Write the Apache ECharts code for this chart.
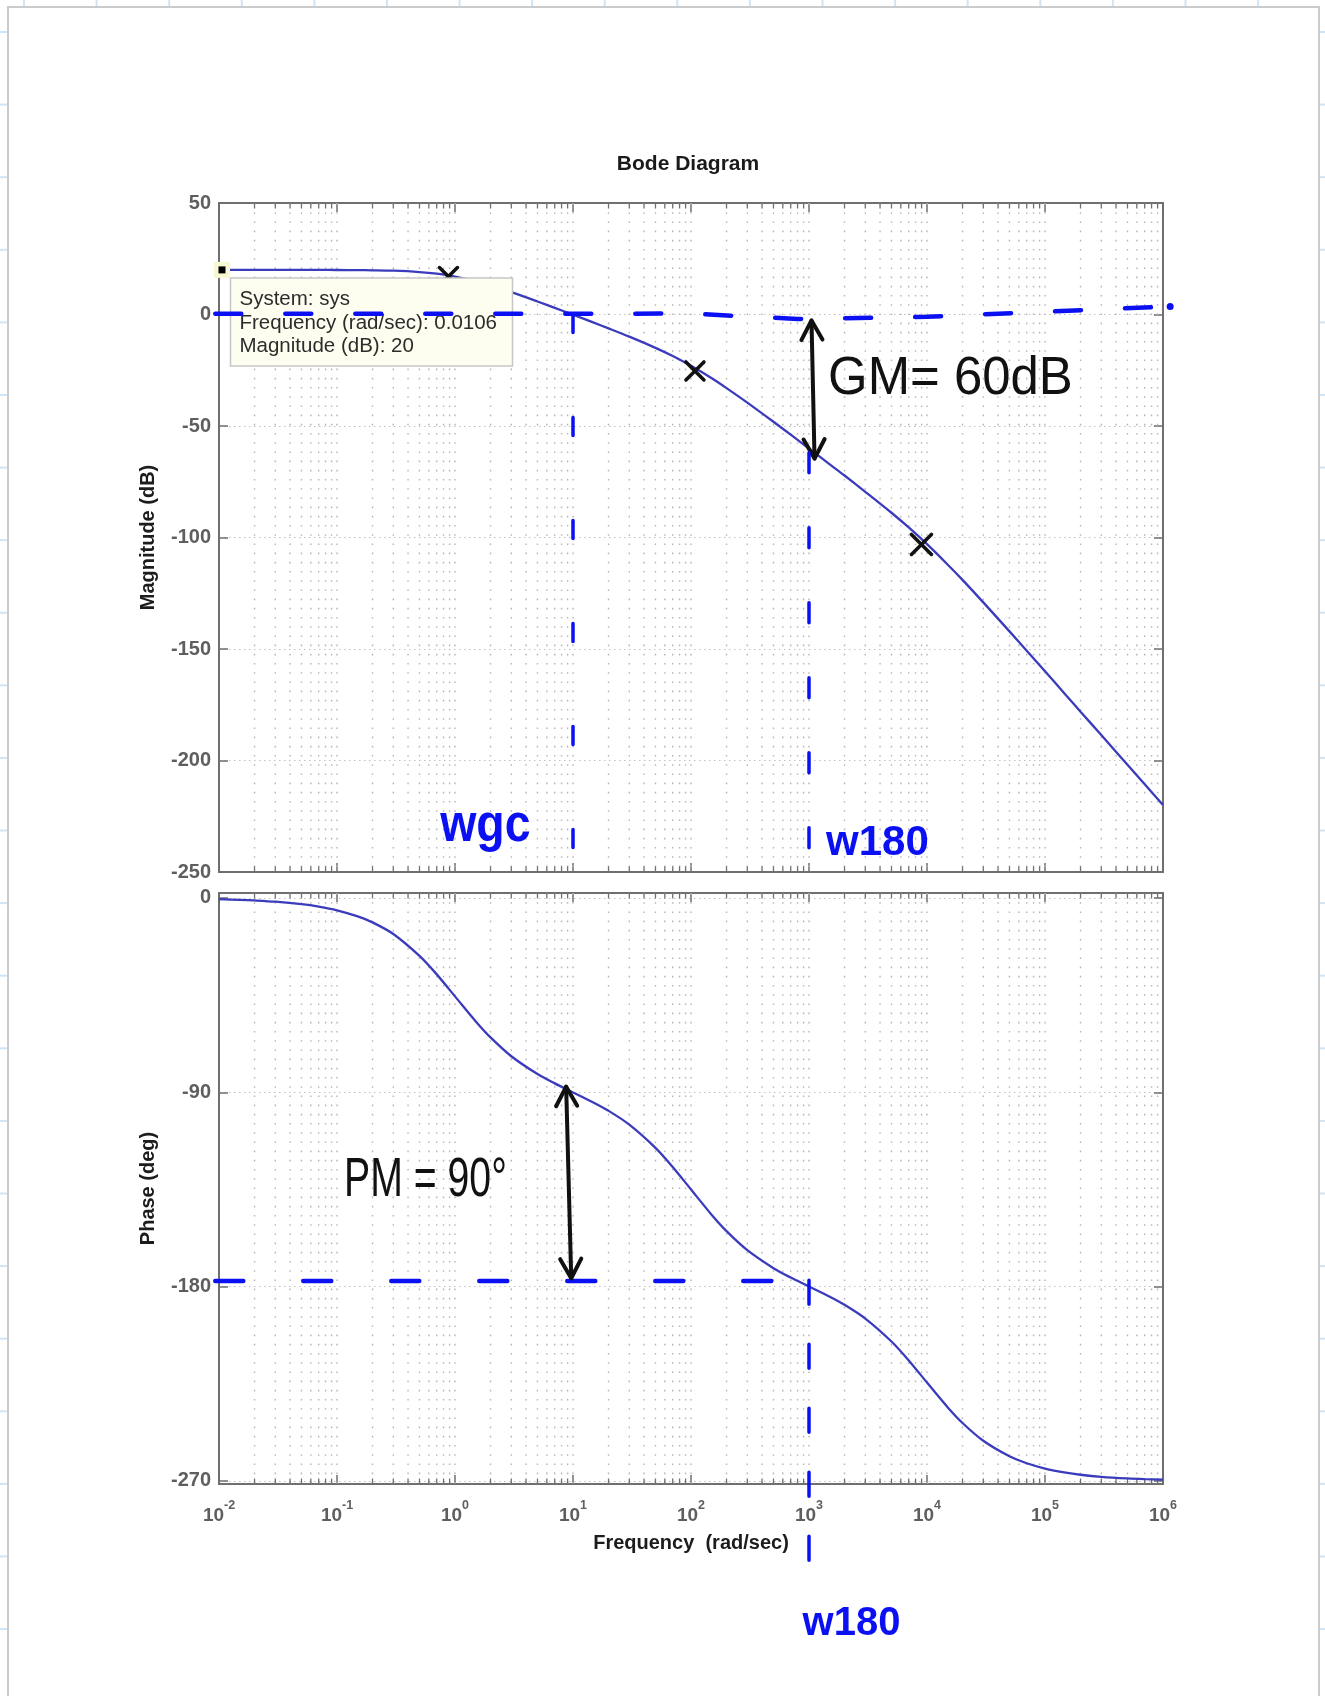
<!DOCTYPE html>
<html>
<head>
<meta charset="utf-8">
<script src="https://cdn.jsdelivr.net/npm/echarts@6/dist/echarts.min.js"></script>
<style>
html,body{margin:0;padding:0;}
body{width:1325px;height:1696px;overflow:hidden;position:relative;background-color:#fff;
background-image:linear-gradient(to right,#cfe5f6 2px,transparent 2px),linear-gradient(to bottom,#cfe5f6 2px,transparent 2px);
background-size:72.6px 72.6px;background-position:23px 31px;}
#page{position:absolute;left:7px;top:6px;width:1309px;height:1720px;background:#fff;border:2px solid #cbcbcb;}
#chart{position:absolute;left:0;top:0;width:1325px;height:1696px;}
</style>
</head>
<body>
<div id="page"></div>
<div id="chart"></div>
<script>
// ---------------- data ----------------
const freq = [0.01,0.015,0.02,0.03,0.05,0.07, 0.1,0.15,0.2,0.3,0.5,0.7, 1,1.5,2,3,5,7,
  10,15,20,30,50,70, 100,150,200,300,500,700, 1000,1500,2000,3000,5000,7000,
  1e4,1.5e4,2e4,3e4,5e4,7e4, 1e5,1.5e5,2e5,3e5,5e5,7e5, 1e6];
const magnitudeDb = [20.0,20.0,20.0,20.0,19.99,19.98, 19.96,19.9,19.83,19.63,19.03,18.29,
  16.99,14.88,13.01,10.0,5.84,2.99, -0.09,-3.64,-6.2,-9.92,-14.95,-18.61,
  -23.0,-28.6,-33.0,-39.5,-48.1,-53.9, -60.1,-67.2,-72.2,-79.5,-88.9,-95.5,
  -103.0,-112.2,-119.0,-129.1,-142.1,-150.8, -160.0,-170.6,-178.1,-188.6,-201.9,-210.7, -220.0];
const phaseDeg = [-0.57,-0.86,-1.15,-1.72,-2.86,-4.0, -5.71,-8.53,-11.31,-16.7,-26.86,-35.39,
  -45.57,-57.17,-64.58,-73.29,-81.55,-85.87, -90.06,-94.81,-98.56,-104.96,-115.71,-124.57,
  -135.0,-146.79,-154.29,-163.1,-171.44,-175.79, -179.94,-184.68,-188.42,-194.77,-205.41,-214.16,
  -224.43,-235.93,-243.14,-251.38,-258.58,-261.79, -264.23,-266.15,-267.11,-268.07,-268.84,-269.17, -269.42];

// axis ticks and ranges
const freqExponents = [-2,-1,0,1,2,3,4,5,6];
const minorMultipliers = [2,3,4,5,6,7,8,9];
const magTicks = [-250,-200,-150,-100,-50,0,50];
const phaseTicks = [-270,-180,-90,0];
const phaseRange = [-271.4, 2.3];   // MATLAB pads the phase limits slightly

// texts
const chartTitle = 'Bode Diagram';
const magAxisName = 'Magnitude (dB)';
const phaseAxisName = 'Phase (deg)';
const freqAxisName = 'Frequency  (rad/sec)';

// MATLAB data tip
const datatipPoint = [0.0106, 20];
const datatipLines = ['System: sys', 'Frequency (rad/sec): 0.0106', 'Magnitude (dB): 20'];

// handwritten annotations (data coordinates)
const zeroDbGuide = [[0.0093,0.3],[100,0.4],[800,-2.0],[1e4,-1.0],[1.12e6,3.6]];
const zeroDbGuideEnd = [1.15e6, 3.6];
const wgcGuide = [[10,0],[10,-250]];
const w180MagGuide = [[1000,-62],[1000,-250]];
const minus180Guide = [[0.0093,-177.4],[1000,-177.4]];
const w180PhaseGuide = [[1000,-177],[1000,-313]];
const gmArrow = [[1050,-2.7],[1114,-64.6]];
const pmArrow = [[8.75,-87.4],[9.66,-176.1]];
const magCrosses = [[0.88,17.0],[108,-25.3],[8970,-103.1]];
const gmText = 'GM= 60dB', gmTextAt = [15800,-29.1];
const pmText = 'PM = 90°', pmTextAt = [0.562,-131.1];
const wgcText = 'wgc', wgcTextAt = [1.81,-229.6];
const w180Text = 'w180', w180MagTextAt = [3800,-237.2], w180PhaseTextAt = [2290,-336.3];

// ---------------- styling ----------------
const FONT = 'Liberation Sans, Arial, Helvetica, sans-serif';
const AXIS_COLOR = '#6f6f6f';
const TICK_COLOR = '#5e5e5e';
const CURVE_COLOR = '#3b3bbd';
const INK_BLUE = '#0b10f2';
const INK_BLACK = '#111111';

const gridFreqs = [];
freqExponents.forEach(function (e) {
  gridFreqs.push([Math.pow(10, e), 0, 0]);
  minorMultipliers.forEach(function (m) { gridFreqs.push([m * Math.pow(10, e), 0, 1]); });
});
const gridFreqData = gridFreqs.filter(function (d) { return d[0] > 0.0101 && d[0] < 9.9e5; });

function xAxisCfg(gridIndex, position, withLabels) {
  return {
    type: 'log', logBase: 10, gridIndex: gridIndex, position: position,
    min: Math.pow(10, freqExponents[0]), max: Math.pow(10, freqExponents[freqExponents.length - 1]),
    splitNumber: freqExponents.length - 1,
    axisLine: {show: true, onZero: false, lineStyle: {color: AXIS_COLOR, width: 2}},
    axisTick: {show: true, inside: true, length: 9, lineStyle: {color: AXIS_COLOR, width: 1.5}},
    axisLabel: withLabels ? {
      show: true, margin: 15,
      formatter: function (v) { return '{b|10}{s|' + Math.round(Math.log10(v)) + '}'; },
      rich: {
        b: {fontSize: 19, fontWeight: 'bold', color: TICK_COLOR, fontFamily: FONT, lineHeight: 26, verticalAlign: 'bottom'},
        s: {fontSize: 12.5, fontWeight: 'bold', color: TICK_COLOR, fontFamily: FONT, lineHeight: 13, verticalAlign: 'top'}
      }
    } : {show: false},
    splitLine: {show: false}, minorTick: {show: false}, minorSplitLine: {show: false},
    name: withLabels ? freqAxisName : '', nameLocation: 'middle', nameGap: 49,
    nameTextStyle: {fontSize: 20, fontWeight: 'bold', color: '#1c1c1c', fontFamily: FONT}
  };
}
function yAxisCfg(gridIndex, position, ticks, range, withLabels, name) {
  return {
    type: 'value', gridIndex: gridIndex, position: position,
    min: range[0], max: range[1],
    axisLine: {show: true, onZero: false, lineStyle: {color: AXIS_COLOR, width: 2}},
    axisTick: {show: true, inside: true, length: 9, customValues: ticks, lineStyle: {color: AXIS_COLOR, width: 1.5}},
    axisLabel: withLabels ? {show: true, margin: 8, customValues: ticks, fontSize: 20, fontWeight: 'bold', color: TICK_COLOR, fontFamily: FONT} : {show: false},
    splitLine: withLabels ? {show: true, lineStyle: {color: '#c2c2c2', width: 1.2, type: [1.5, 3.5]}} : {show: false},
    name: withLabels ? name : '', nameLocation: 'middle', nameGap: 61, nameRotate: 90,
    nameTextStyle: {fontSize: 20, fontWeight: 'bold', color: '#1c1c1c', fontFamily: FONT}
  };
}

// vertical dotted grid lines + minor ticks (drawn through the log axis)
function gridRender(params, api) {
  const x = api.coord([api.value(0), api.value(1)])[0];
  const cs = params.coordSys;
  const top = cs.y, bot = cs.y + cs.height;
  const children = [{
    type: 'line', shape: {x1: x, y1: top, x2: x, y2: bot},
    style: {stroke: '#b5b5b5', lineWidth: 1.4, lineDash: [1.6, 7.6]}
  }];
  if (api.value(2) === 1) {
    children.push({type: 'line', shape: {x1: x, y1: bot, x2: x, y2: bot - 5.5}, style: {stroke: AXIS_COLOR, lineWidth: 1.3}});
    children.push({type: 'line', shape: {x1: x, y1: top, x2: x, y2: top + 5.5}, style: {stroke: AXIS_COLOR, lineWidth: 1.3}});
  }
  return {type: 'group', children: children};
}

function poly(api, pts, color, width, dash) {
  return {type: 'polyline', shape: {points: pts.map(function (p) { return api.coord(p); })},
    style: {stroke: color, lineWidth: width, fill: null, lineDash: dash || null, lineCap: 'round', lineJoin: 'round'}};
}
function arrowHead(tip, toward, len, ang) {
  const dx = toward[0] - tip[0], dy = toward[1] - tip[1];
  const L = Math.hypot(dx, dy), ux = dx / L, uy = dy / L;
  function rot(a) { return [ux * Math.cos(a) - uy * Math.sin(a), ux * Math.sin(a) + uy * Math.cos(a)]; }
  const r1 = rot(ang), r2 = rot(-ang);
  return [[tip[0] + r1[0] * len, tip[1] + r1[1] * len], tip, [tip[0] + r2[0] * len, tip[1] + r2[1] * len]];
}
function arrow(api, ends, color) {
  const a = api.coord(ends[0]), b = api.coord(ends[1]);
  const st = {stroke: color, lineWidth: 4, fill: null, lineCap: 'round', lineJoin: 'round'};
  return [
    {type: 'polyline', shape: {points: [a, b]}, style: st},
    {type: 'polyline', shape: {points: arrowHead(a, b, 22, 0.5)}, style: st},
    {type: 'polyline', shape: {points: arrowHead(b, a, 22, 0.5)}, style: st}
  ];
}
function cross(api, c, half, color) {
  const p = api.coord(c);
  const st = {stroke: color, lineWidth: 3.5, lineCap: 'round'};
  return [
    {type: 'line', shape: {x1: p[0] - half, y1: p[1] - half, x2: p[0] + half, y2: p[1] + half}, style: st},
    {type: 'line', shape: {x1: p[0] + half, y1: p[1] - half, x2: p[0] - half, y2: p[1] + half}, style: st}
  ];
}
function handText(api, text, at, size, color, sx, weight) {
  const p = api.coord(at);
  return {type: 'text', x: p[0], y: p[1], scaleX: sx || 1,
    style: {text: text, fill: color, fontSize: size, fontFamily: FONT, fontWeight: weight || 'normal', align: 'center', verticalAlign: 'middle'}};
}

const chart = echarts.init(document.getElementById('chart'), null, {renderer: 'canvas', width: 1325, height: 1696});

const option = {
  backgroundColor: 'transparent',
  animation: false,
  graphic: [{
    type: 'text', x: 688, y: 164, z: 10,
    style: {text: chartTitle, fill: '#1a1a1a', fontSize: 21, fontWeight: 'bold', fontFamily: FONT, align: 'center', verticalAlign: 'middle'}
  }],
  grid: [
    {left: 219, top: 203, width: 944, height: 669, containLabel: false, outerBoundsMode: 'none'},
    {left: 219, top: 893, width: 944, height: 591, containLabel: false, outerBoundsMode: 'none'}
  ],
  xAxis: [xAxisCfg(0, 'bottom', false), xAxisCfg(0, 'top', false), xAxisCfg(1, 'bottom', true), xAxisCfg(1, 'top', false)],
  yAxis: [
    yAxisCfg(0, 'left', magTicks, [magTicks[0], magTicks[magTicks.length - 1]], true, magAxisName),
    yAxisCfg(0, 'right', magTicks, [magTicks[0], magTicks[magTicks.length - 1]], false),
    yAxisCfg(1, 'left', phaseTicks, phaseRange, true, phaseAxisName),
    yAxisCfg(1, 'right', phaseTicks, phaseRange, false)
  ],
  series: [
    {type: 'custom', name: 'gridMag', xAxisIndex: 0, yAxisIndex: 0, z: 1, silent: true,
     data: gridFreqData.map(function (d) { return [d[0], 0, d[2]]; }), encode: {x: 0, y: 1}, renderItem: gridRender},
    {type: 'custom', name: 'gridPhase', xAxisIndex: 2, yAxisIndex: 2, z: 1, silent: true,
     data: gridFreqData.map(function (d) { return [d[0], -90, d[2]]; }), encode: {x: 0, y: 1}, renderItem: gridRender},
    {type: 'line', name: 'Magnitude', xAxisIndex: 0, yAxisIndex: 0, z: 2,
     data: freq.map(function (f, i) { return [f, magnitudeDb[i]]; }),
     showSymbol: false, smooth: 0.3, lineStyle: {color: CURVE_COLOR, width: 2.3}, itemStyle: {color: CURVE_COLOR}},
    {type: 'line', name: 'Phase', xAxisIndex: 2, yAxisIndex: 2, z: 2,
     data: freq.map(function (f, i) { return [f, phaseDeg[i]]; }),
     showSymbol: false, smooth: 0.3, lineStyle: {color: CURVE_COLOR, width: 2.3}, itemStyle: {color: CURVE_COLOR}},
    // black handwriting in magnitude plot (below the data tip box)
    {type: 'custom', name: 'inkMagBlack', xAxisIndex: 0, yAxisIndex: 0, z: 3, silent: true, clip: false,
     data: [[1, 0]], encode: {x: 0, y: 1},
     renderItem: function (params, api) {
       let ch = [];
       magCrosses.forEach(function (c, i) { ch = ch.concat(cross(api, c, i === 2 ? 10 : 9, INK_BLACK)); });
       ch = ch.concat(arrow(api, gmArrow, INK_BLACK));
       ch.push(handText(api, gmText, gmTextAt, 53, INK_BLACK, 0.96));
       return {type: 'group', children: ch};
     }},
    // MATLAB data tip
    {type: 'custom', name: 'datatip', xAxisIndex: 0, yAxisIndex: 0, z: 4, silent: true, clip: false,
     data: [datatipPoint], encode: {x: 0, y: 1},
     renderItem: function (params, api) {
       const p = api.coord([api.value(0), api.value(1)]);
       const bx = p[0] + 8.5, by = p[1] + 8;
       const ch = [
         {type: 'rect', shape: {x: p[0] - 8, y: p[1] - 8, width: 16, height: 16}, style: {fill: '#f8f8d4'}},
         {type: 'rect', shape: {x: p[0] - 3.5, y: p[1] - 3.5, width: 7, height: 7}, style: {fill: '#000'}},
         {type: 'rect', shape: {x: bx, y: by, width: 282, height: 88}, style: {fill: '#fdfdf0', stroke: '#c6c6c6', lineWidth: 1.5}}
       ];
       datatipLines.forEach(function (t, i) {
         ch.push({type: 'text', x: bx + 9, y: by + 21.5 + i * 23.5,
           style: {text: t, fill: '#2c2c2c', fontSize: 20.5, fontFamily: FONT, align: 'left', verticalAlign: 'middle'}});
       });
       return {type: 'group', children: ch};
     }},
    // blue handwriting in magnitude plot (above the data tip)
    {type: 'custom', name: 'inkMagBlue', xAxisIndex: 0, yAxisIndex: 0, z: 6, silent: true, clip: false,
     data: [[1, 0]], encode: {x: 0, y: 1},
     renderItem: function (params, api) {
       const endP = api.coord(zeroDbGuideEnd);
       return {type: 'group', children: [
         poly(api, zeroDbGuide, INK_BLUE, 4.5, [26, 44]),
         {type: 'circle', shape: {cx: endP[0], cy: endP[1], r: 3.5}, style: {fill: INK_BLUE}},
         poly(api, wgcGuide, INK_BLUE, 3.5, [18, 85]),
         poly(api, w180MagGuide, INK_BLUE, 3.5, [20, 55]),
         handText(api, wgcText, wgcTextAt, 54, INK_BLUE, 0.86, 'bold'),
         handText(api, w180Text, w180MagTextAt, 42, INK_BLUE, 1, 'bold')
       ]};
     }},
    // handwriting in phase plot
    {type: 'custom', name: 'inkPhase', xAxisIndex: 2, yAxisIndex: 2, z: 6, silent: true, clip: false,
     data: [[1, -90]], encode: {x: 0, y: 1},
     renderItem: function (params, api) {
       let ch = [
         poly(api, minus180Guide, INK_BLUE, 4.5, [28, 60]),
         poly(api, w180PhaseGuide, INK_BLUE, 3.5, [24, 40]),
         handText(api, w180Text, w180PhaseTextAt, 40, INK_BLUE, 1, 'bold'),
         handText(api, pmText, pmTextAt, 56, INK_BLACK, 0.70)
       ];
       ch = ch.concat(arrow(api, pmArrow, INK_BLACK));
       return {type: 'group', children: ch};
     }}
  ]
};
chart.setOption(option);
</script>
</body>
</html>
